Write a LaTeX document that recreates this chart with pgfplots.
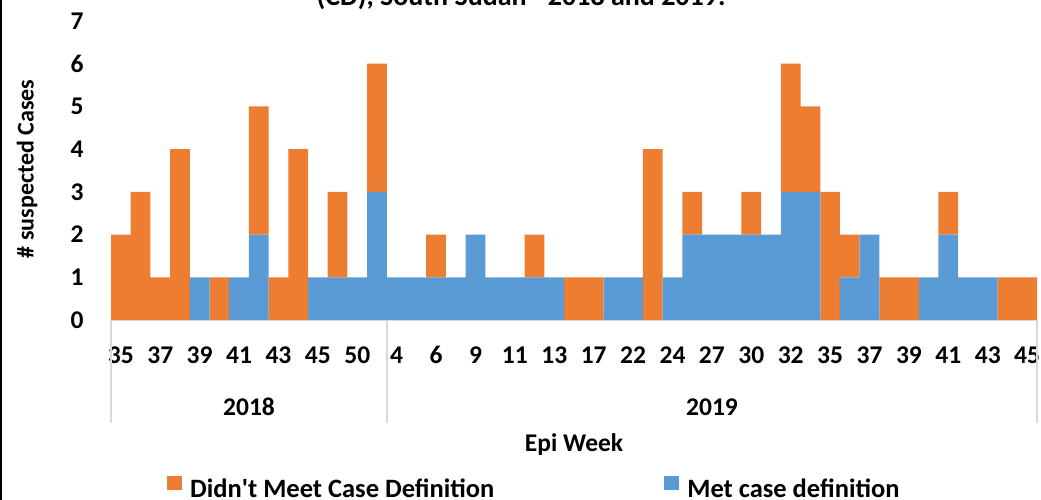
\documentclass[border=0pt]{standalone}
\usepackage{fontspec}
\setmainfont{Carlito}
\usepackage{pgfplots}
\pgfplotsset{compat=1.18}

\definecolor{cdorange}{HTML}{ED7D31}
\definecolor{cdblue}{HTML}{5B9BD5}
\definecolor{sepgray}{HTML}{D9D9D9}

\newcommand{\bigbf}{\bfseries\fontsize{25.5}{30}\selectfont}

\begin{document}
\begin{tikzpicture}
\useasboundingbox (0,0) rectangle (1041pt,500pt);
\fill[black] (0,0) rectangle (2pt,500pt);

\begin{axis}[
    at={(111pt,180pt)}, anchor=south west,
    scale only axis,
    width=926pt, height=299pt,
    ybar stacked,
    bar width=1,
    xmin=0.5, xmax=47.5,
    ymin=0, ymax=7,
    ytick={0,1,...,7},
    xtick=\empty,
    axis x line*=bottom,
    axis y line*=left,
    x axis line style={draw=sepgray, line width=1.5pt},
    y axis line style={draw=none},
    major tick length=0pt,
    /pgf/number format/assume math mode=true,
    tick label style={font=\bigbf},
    yticklabel style={anchor=center, xshift=-34pt},
    clip=false,
    legend style={at={(rel axis cs:0.0605,-0.562)}, anchor=west, draw=none,
        fill=none, inner sep=0pt, font=\bfseries\fontsize{26.5}{30}\selectfont,
        legend columns=2,
        /tikz/every odd column/.append style={column sep=6pt},
        /tikz/every even column/.append style={column sep=168pt}},
    legend cell align=left,
    legend image code/.code={\fill[#1] (0pt,-1pt) rectangle (15pt,13pt);},
]
\addlegendimage{fill=cdorange, draw=none}
\addlegendentry{Didn\textquotesingle t Meet Case Definition}
\addlegendimage{fill=cdblue, draw=none}
\addlegendentry{Met case definition}

% Met case definition (bottom)
\addplot[fill=cdblue, draw=none] coordinates {
 (1,0) (2,0) (3,0) (4,0) (5,1) (6,0) (7,1) (8,2) (9,0) (10,0)
 (11,1) (12,1) (13,1) (14,3) (15,1) (16,1) (17,1) (18,1) (19,2) (20,1)
 (21,1) (22,1) (23,1) (24,0) (25,0) (26,1) (27,1) (28,0) (29,1) (30,2)
 (31,2) (32,2) (33,2) (34,2) (35,3) (36,3) (37,0) (38,1) (39,2) (40,0)
 (41,0) (42,1) (43,2) (44,1) (45,1) (46,0) (47,0)};
% Didn't meet case definition (top)
\addplot[fill=cdorange, draw=none] coordinates {
 (1,2) (2,3) (3,1) (4,4) (5,0) (6,1) (7,0) (8,3) (9,1) (10,4)
 (11,0) (12,2) (13,0) (14,3) (15,0) (16,0) (17,1) (18,0) (19,0) (20,0)
 (21,0) (22,1) (23,0) (24,1) (25,1) (26,0) (27,0) (28,4) (29,0) (30,1)
 (31,0) (32,0) (33,1) (34,0) (35,3) (36,2) (37,3) (38,1) (39,0) (40,1)
 (41,1) (42,0) (43,1) (44,0) (45,0) (46,1) (47,1)};
\end{axis}

% epi week labels under every other bar (bar k centred at 111 + (k-0.5)*926/47)
\foreach \lab [count=\i] in {35,37,39,41,43,45,50,4,6,9,11,13,17,22,24,27,30,32,35,37,39,41,43,45}
  \node[font=\bigbf] at ({111pt+(2*\i-1.5)*19.702pt},145pt) {\lab};

% year group separators and labels
\draw[sepgray, line width=1.5pt] (111pt,180pt) -- (111pt,77pt);
\draw[sepgray, line width=1.5pt] (387pt,180pt) -- (387pt,77pt);
\draw[sepgray, line width=1.5pt] (1037pt,180pt) -- (1037pt,77pt);
\node[font=\bigbf] at (249pt,93pt) {2018};
\node[font=\bigbf] at (712pt,93pt) {2019};

\node[font=\bigbf] at (574pt,55pt) {Epi Week};
\node[font=\bfseries\fontsize{24}{28}\selectfont, rotate=90] at (27pt,331pt) {\# suspected Cases};

% title, cut off by the top edge
\node[overlay, anchor=base, font=\bfseries\fontsize{28}{32}\selectfont] at (521pt,494pt)
  {(CD), South Sudan - 2018 and 2019.};
\end{tikzpicture}
\end{document}
